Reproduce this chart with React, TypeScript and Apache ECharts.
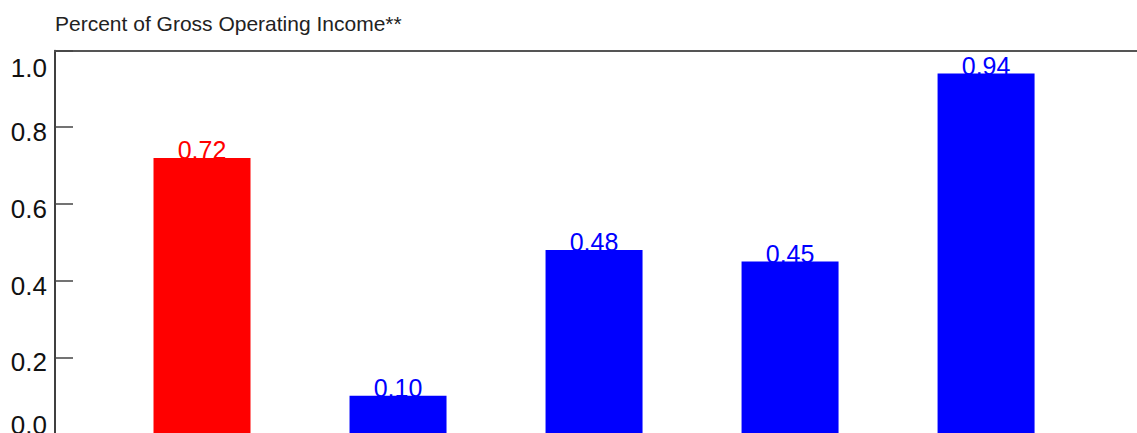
import React, { useEffect, useRef } from "react";
import * as echarts from "echarts";

const titleText = "Percent of Gross Operating Income**";
const categoryIndex = [1, 2, 3, 4, 5];
const values = [0.72, 0.1, 0.48, 0.45, 0.94];
const barColors = ["#ff0000", "#0000ff", "#0000ff", "#0000ff", "#0000ff"];
const yTicks = [0, 0.2, 0.4, 0.6, 0.8, 1.0];

const FONT = "'Liberation Sans', Arial, Helvetica, sans-serif";

export default function App() {
  const ref = useRef<HTMLDivElement>(null);
  useEffect(() => {
    document.body.style.margin = "0";
    const chart = echarts.init(ref.current!, null, { renderer: "svg" });
    const yMin = yTicks[0];
    const yMax = yTicks[yTicks.length - 1];
    const lblBase = { fontFamily: FONT, fontSize: 26, color: "#111" };
    chart.setOption({
      animation: false,
      title: {
        text: titleText,
        left: 55,
        top: 13,
        padding: 0,
        textStyle: { fontFamily: FONT, fontSize: 21, fontWeight: "normal", color: "#222" },
      },
      grid: {
        left: 55,
        right: 0,
        top: 50.5,
        bottom: -1,
        containLabel: false,
        outerBoundsMode: "none",
      },
      xAxis: [
        {
          type: "value",
          min: 0.25,
          max: 5.77,
          axisLine: { show: false },
          axisTick: { show: false },
          axisLabel: { show: false },
          splitLine: { show: false },
        },
        {
          type: "value",
          position: "top",
          min: 0.25,
          max: 5.77,
          axisLine: { show: true, onZero: false, lineStyle: { color: "#555", width: 2 } },
          axisTick: { show: false },
          axisLabel: { show: false },
          splitLine: { show: false },
        },
      ],
      yAxis: {
        type: "value",
        min: yMin,
        max: yMax,
        interval: 0.2,
        axisLine: { show: true, lineStyle: { color: "#000", width: 1.5 } },
        axisTick: { show: true, inside: true, length: 18, lineStyle: { color: "#444", width: 1.5 } },
        splitLine: { show: false },
        axisLabel: {
          ...lblBase,
          margin: 8,
          verticalAlign: "top",
          verticalAlignMaxLabel: "top",
          verticalAlignMinLabel: "bottom",
          lineHeight: 10,
          formatter: (v: number) => {
            const s = v.toFixed(1);
            if (Math.abs(v - yMax) < 1e-9) return "{m|" + s + "}";
            if (Math.abs(v - yMin) < 1e-9) return "{z|" + s + "}";
            return "{n|" + s + "}";
          },
          rich: {
            m: { ...lblBase, lineHeight: 35 },
            z: { ...lblBase, lineHeight: 19 },
            n: { ...lblBase, lineHeight: 10 },
          },
        },
      },
      series: [
        {
          type: "bar",
          xAxisIndex: 0,
          barWidth: 97,
          data: categoryIndex.map((x, i) => ({
            value: [x, values[i]],
            itemStyle: { color: barColors[i] },
            label: { color: barColors[i] },
          })),
          label: {
            show: true,
            position: "top",
            distance: 0,
            offset: [0, 5],
            fontFamily: FONT,
            fontSize: 25,
            formatter: (p: any) => p.value[1].toFixed(2),
          },
        },
      ],
    });
    return () => chart.dispose();
  }, []);
  return (
    <div
      ref={ref}
      style={{ position: "absolute", left: 0, top: 0, width: 1137, height: 433, overflow: "hidden" }}
    />
  );
}
